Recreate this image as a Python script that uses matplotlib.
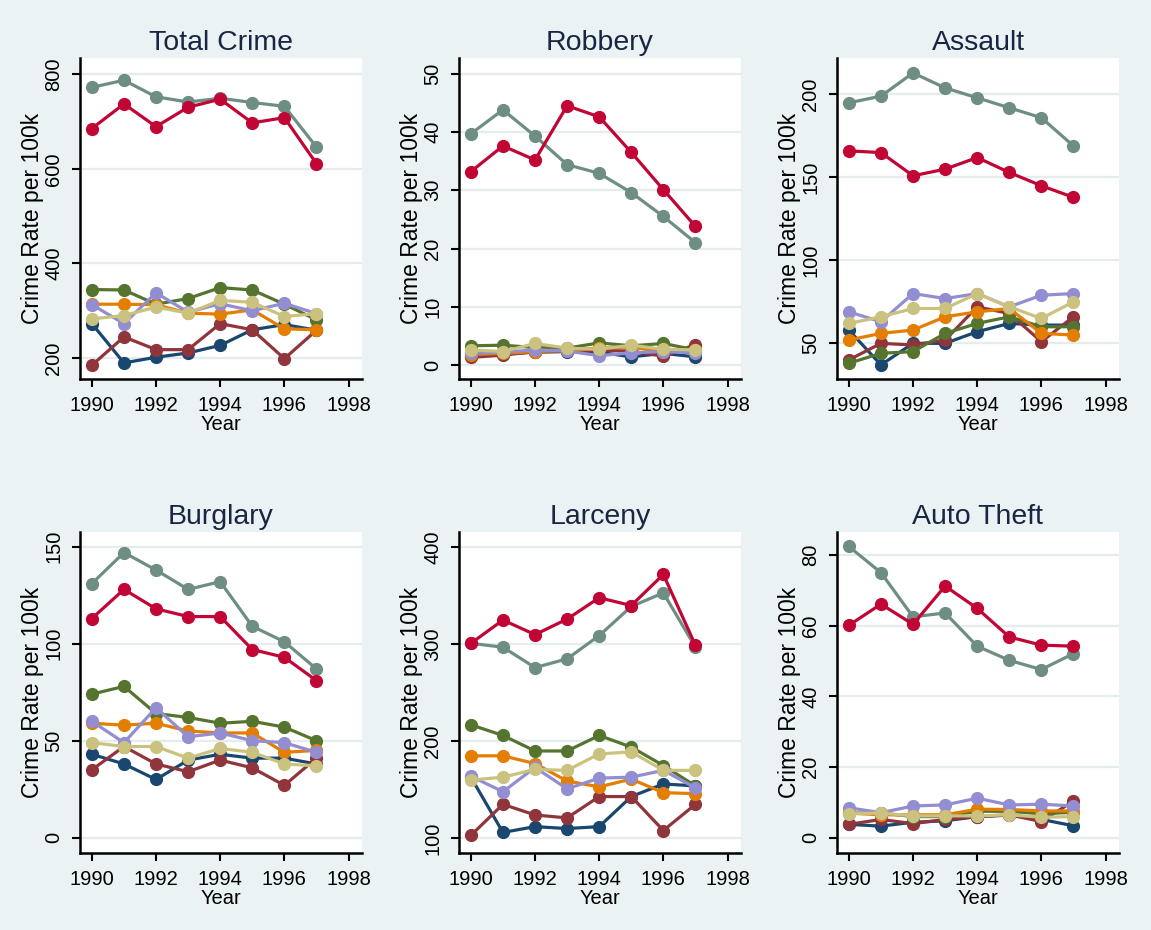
import numpy as np
import matplotlib
matplotlib.use('Agg')
import matplotlib.pyplot as plt

plt.rcParams['font.family'] = ['Liberation Sans', 'DejaVu Sans']

years = [1990, 1991, 1992, 1993, 1994, 1995, 1996, 1997]

# series order: navy, maroon, forest green, orange, teal, cranberry, lavender, khaki
colors = ['#1a476f', '#90353b', '#55752f', '#e37e00', '#6e8e84', '#c10534', '#938dd2', '#cac27e']

titles = ['Total Crime', 'Robbery', 'Assault', 'Burglary', 'Larceny', 'Auto Theft']

total_crime = [
    [273, 190, 202, 211, 227, 260, 271, 259],
    [185, 245, 218, 218, 273, 260, 199, 259],
    [345, 344, 314, 326, 349, 344, 314, 281],
    [314, 314, 313, 295, 293, 302, 262, 260],
    [772, 787, 752, 741, 749, 740, 732, 646],
    [685, 737, 689, 730, 747, 697, 708, 611],
    [313, 273, 338, 297, 315, 300, 316, 294],
    [283, 290, 308, 295, 322, 318, 288, 294],
]
robbery = [
    [1.6, 1.9, 2.2, 2.3, 2.2, 1.4, 2.0, 1.4],
    [1.3, 1.7, 2.3, 2.4, 2.5, 2.4, 1.5, 3.5],
    [3.3, 3.4, 3.0, 2.9, 3.8, 3.3, 3.7, 2.6],
    [1.8, 2.0, 2.3, 2.5, 2.9, 3.1, 2.2, 2.5],
    [39.7, 43.8, 39.3, 34.4, 32.9, 29.6, 25.5, 21.0],
    [33.2, 37.6, 35.2, 44.5, 42.6, 36.5, 30.1, 23.8],
    [2.0, 2.2, 2.6, 2.4, 1.6, 2.1, 2.3, 2.1],
    [2.6, 2.3, 3.7, 2.9, 2.7, 3.4, 2.7, 2.6],
]
assault = [
    [58, 37, 50, 50, 57, 62, 61, 61],
    [40, 50, 49, 52, 72, 68, 51, 66],
    [38, 44, 45, 56, 62, 66, 60, 60],
    [52, 56, 58, 66, 69, 71, 56, 55],
    [195, 199, 213, 204, 198, 192, 186, 169],
    [166, 165, 151, 155, 162, 153, 145, 138],
    [69, 63, 80, 77, 80, 72, 79, 80],
    [62, 66, 71, 71, 80, 72, 65, 75],
]
burglary = [
    [43, 38, 30, 40, 43, 41, 41, 38],
    [35, 47, 38, 34, 40, 36, 27, 41],
    [74, 78, 64, 62, 59, 60, 57, 50],
    [59, 58, 59, 55, 54, 54, 44, 45],
    [131, 147, 138, 128, 132, 109, 101, 87],
    [113, 128, 118, 114, 114, 97, 93, 81],
    [60, 49, 67, 52, 54, 50, 49, 44],
    [49, 47, 47, 41, 46, 44, 38, 37],
]
larceny = [
    [163, 106, 112, 110, 112, 143, 156, 154],
    [103, 135, 124, 121, 143, 143, 108, 135],
    [217, 206, 190, 190, 206, 194, 175, 154],
    [185, 185, 177, 159, 153, 161, 147, 146],
    [301, 297, 276, 285, 309, 339, 353, 297],
    [301, 325, 310, 326, 348, 340, 372, 299],
    [164, 148, 173, 151, 162, 163, 170, 152],
    [160, 163, 171, 170, 187, 189, 170, 170],
]
auto_theft = [
    [3.8, 3.3, 4.4, 4.8, 6.0, 6.4, 5.2, 3.4],
    [3.8, 5.2, 4.0, 5.2, 6.0, 6.5, 4.6, 10.4],
    [7.0, 7.0, 6.0, 6.0, 7.5, 7.5, 6.8, 7.2],
    [7.0, 6.5, 6.5, 6.5, 8.1, 8.0, 7.6, 7.6],
    [82.4, 75.0, 62.5, 63.6, 54.2, 50.2, 47.6, 52.1],
    [60.1, 66.1, 60.4, 71.2, 64.9, 56.8, 54.5, 54.2],
    [8.5, 7.1, 9.0, 9.3, 11.2, 9.3, 9.5, 9.0],
    [6.8, 7.0, 6.2, 6.2, 6.2, 6.5, 5.8, 6.0],
]

panels = [total_crime, robbery, assault, burglary, larceny, auto_theft]
yticks = [np.arange(200, 801, 200), np.arange(0, 51, 10), np.arange(50, 201, 50),
          np.arange(0, 151, 50), np.arange(100, 401, 100), np.arange(0, 81, 20)]
ylims = [(156, 834), (-2.4, 52.7), (28.5, 222), (-7.9, 157.6), (84.8, 415.8), (-4.3, 86.5)]

bg = '#eaf2f3'
fig = plt.figure(figsize=(11.51, 9.30), dpi=100, facecolor=bg)

W, H = 1151.0, 930.0
lefts = [80, 459, 837]
tops = [58, 532]
aw, ah = 282, 321

for k in range(6):
    r, c = divmod(k, 3)
    ax = fig.add_axes([lefts[c] / W, 1 - (tops[r] + ah) / H, aw / W, ah / H])
    ax.set_facecolor('white')
    for s, col in enumerate(colors):
        ax.plot(years, panels[k][s], color=col, lw=2.3, marker='o', ms=8.5,
                mec=col, mfc=col, zorder=3 + s)
    ax.set_xlim(1989.63, 1998.42)
    ax.set_ylim(*ylims[k])
    ax.set_xticks(np.arange(1990, 1999, 2))
    ax.set_yticks(yticks[k])
    for yv in yticks[k]:
        ax.axhline(yv, color='#e4ecee', lw=1.6, zorder=1)
    for sp in ['top', 'right']:
        ax.spines[sp].set_visible(False)
    for sp in ['left', 'bottom']:
        ax.spines[sp].set_linewidth(1.8)
        ax.spines[sp].set_color('black')
    ax.tick_params(direction='out', length=6, width=1.5, labelsize=14.5, pad=6)
    plt.setp(ax.get_yticklabels(), rotation=90, va='center')
    ax.set_title(titles[k], fontsize=20.5, color='#1a2544', pad=6)
    ax.set_xlabel('Year', fontsize=14.5, labelpad=0)
    ax.set_ylabel('Crime Rate per 100k', fontsize=16.5, labelpad=0)

fig.savefig('out.png', dpi=100, facecolor=bg)
